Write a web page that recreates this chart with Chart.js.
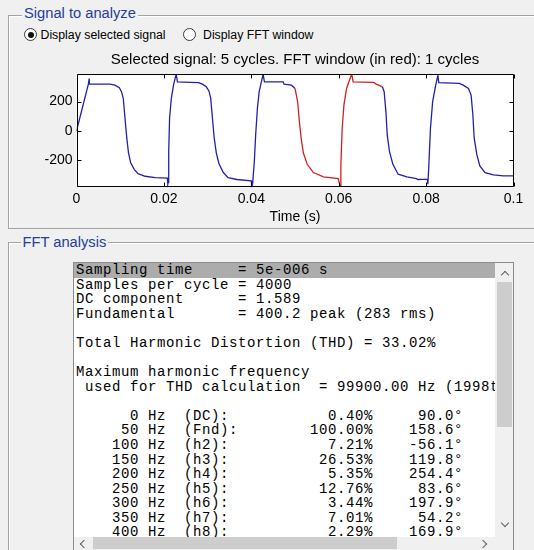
<!DOCTYPE html>
<html lang="en">
<head>
<meta charset="UTF-8">
<title>FFT analysis</title>
<script src="https://cdn.jsdelivr.net/npm/chart.js"></script>
<style>
  body { margin: 0; width: 534px; height: 550px; background: #f0f0f0; overflow: hidden; position: relative;
         font-family: "Liberation Sans", Arial, sans-serif; }
  .abs { position: absolute; }
  .group { position: absolute; border: 1px solid #a3a3a3; box-shadow: inset 1px 1px 0 #fff; }
  .legend { position: absolute; background: #f0f0f0; color: #24409a; font-size: 14.7px; line-height: 17px; padding: 0 2px; }
  .radio { position: absolute; width: 11px; height: 11px; border: 1px solid #3a3a3a; border-radius: 50%; background: #fff; }
  .radio.on::after { content: ""; position: absolute; left: 2.5px; top: 2.5px; width: 6px; height: 6px; border-radius: 50%; background: #111; }
  .rlabel { position: absolute; font-size: 12.3px; line-height: 14px; color: #000; }
  #list { left: 73px; top: 262px; width: 439px; height: 300px; border: 1px solid #8c8c8c; background: #fff; }
  #sel { left: 74px; top: 263.4px; width: 421px; height: 14.6px; background: #acacac; }
  #txt { left: 74px; top: 263.4px; width: 419px; height: 273.6px; padding-left: 2px; overflow: hidden; white-space: pre;
         font-family: "Liberation Mono", "Courier New", monospace; font-size: 14px; letter-spacing: 0.6px; line-height: 14.55px; color: #000; }
  .track { position: absolute; background: #f0f0f0; }
  .thumb { position: absolute; background: #cdcdcd; }
  .chev { position: absolute; width: 5px; height: 5px; border-left: 1.5px solid #606060; border-top: 1.5px solid #606060; }
</style>
</head>
<body>

<div class="group" style="left:8px; top:15px; width:600px; height:212px;"></div>
<div class="legend" style="left:22px; top:5px;">Signal to analyze</div>

<div class="radio on" style="left:24px; top:28px;"></div>
<div class="rlabel" style="left:40.5px; top:28px;">Display selected signal</div>
<div class="radio" style="left:183px; top:28px;"></div>
<div class="rlabel" style="left:203px; top:28px;">Display FFT window</div>

<canvas id="sig" class="abs" width="514" height="186" style="left:20px; top:44px;"></canvas>

<div class="group" style="left:8px; top:242px; width:600px; height:400px;"></div>
<div class="legend" style="left:20.5px; top:233.5px;">FFT analysis</div>

<div id="list" class="abs"></div>
<div id="sel" class="abs"></div>
<div id="txt" class="abs"></div>

<div class="track" style="left:495px; top:263px; width:18px; height:274px;"></div>
<div class="thumb" style="left:497px; top:282px; width:15px; height:145px;"></div>
<div class="chev" style="left:502px; top:272px; transform:rotate(45deg);"></div>
<div class="chev" style="left:502px; top:520px; transform:rotate(225deg);"></div>

<div class="track" style="left:74px; top:537px; width:439px; height:13px;"></div>
<div class="thumb" style="left:93px; top:537px; width:304px; height:12px;"></div>
<div class="chev" style="left:81px; top:540.5px; transform:rotate(-45deg);"></div>
<div class="chev" style="left:480px; top:540.5px; transform:rotate(135deg);"></div>

<script>
// signal: time (s) and value
const tTime = [
  0.0000, 0.0027, 0.0029, 0.00292, 0.0077, 0.0088, 0.0098, 0.0103, 0.0107, 0.0111,
  0.0115, 0.0119, 0.0124, 0.0132, 0.0141, 0.0157, 0.0180, 0.0208, 0.0209,
  0.0210, 0.0211, 0.0213, 0.0217, 0.0222, 0.0228, 0.0231, 0.0279,
  0.0287, 0.0297, 0.0303, 0.0307, 0.0311, 0.0315, 0.0320, 0.0326, 0.0336, 0.0347,
  0.0367, 0.0400, 0.0401,
  0.0403, 0.0407, 0.0410, 0.0414, 0.0418, 0.0424, 0.0427, 0.0430, 0.0473, 0.0475,
  0.0492, 0.0500, 0.0506, 0.0510, 0.0514, 0.0519, 0.0528, 0.0542, 0.0565, 0.0599, 0.0603,
  0.0605, 0.0608, 0.0612, 0.0618, 0.0626, 0.0630, 0.0633, 0.0680, 0.0685, 0.0700,
  0.0704, 0.0708, 0.0711, 0.0716, 0.0724, 0.0736, 0.0756, 0.0778, 0.0781, 0.0803, 0.0804,
  0.0806, 0.0810, 0.0815, 0.0822, 0.0827, 0.0829, 0.0876, 0.0885, 0.0897, 0.0903,
  0.0907, 0.0910, 0.0916, 0.0923, 0.0935, 0.0954, 0.0977, 0.1000
];
const vSignal = [
  0, 316, 356, 318, 318, 311, 294, 267, 222, 87,
  -47, -148, -215, -260, -289, -307, -316, -320, -361,
  -349, -137, 87, 222, 311, 386, 334, 329,
  320, 300, 272, 225, 90, -45, -150, -222, -282, -316,
  -329, -338, -376,
  -360, -204, -25, 155, 267, 345, 386, 334, 334, 318,
  311, 289, 200, 65, -47, -148, -226, -282, -311, -323, -376,
  -226, 20, 177, 289, 356, 386, 334, 330, 320, 300,
  267, 132, -25, -137, -226, -293, -311, -323, -329, -327, -361,
  -249, 20, 200, 311, 378, 329, 323, 311, 289, 244,
  110, -47, -159, -237, -282, -298, -304, -304
];
const fftWindow = [0.05, 0.07];
const xTicks = [0, 0.02, 0.04, 0.06, 0.08, 0.1];
const yTicks = [-200, 0, 200];
const yLimits = [-382, 387];

// FFT results
const samplingTime = '5e-006';
const samplesPerCycle = 4000;
const dcComponent = 1.589;
const fundPeak = 400.2;
const fundRms = 283;
const thdPct = 33.02;
const maxHarmFreq = 99900.00;
const maxHarmOrder = 1998;
const harmFreq = [0, 50, 100, 150, 200, 250, 300, 350, 400];
const harmName = ['DC', 'Fnd', 'h2', 'h3', 'h4', 'h5', 'h6', 'h7', 'h8'];
const harmMag = [0.40, 100.00, 7.21, 26.53, 5.35, 12.76, 3.44, 7.01, 2.29];
const harmPhase = [90.0, 158.6, -56.1, 119.8, 254.4, 83.6, 197.9, 54.2, 169.9];

// listbox text
const lines = [
  'Sampling time     = ' + samplingTime + ' s',
  'Samples per cycle = ' + samplesPerCycle,
  'DC component      = ' + dcComponent,
  'Fundamental       = ' + fundPeak + ' peak (' + fundRms + ' rms)',
  '',
  'Total Harmonic Distortion (THD) = ' + thdPct.toFixed(2) + '%',
  '',
  'Maximum harmonic frequency',
  ' used for THD calculation  = ' + maxHarmFreq.toFixed(2) + ' Hz (' + maxHarmOrder + 'th harmonic)',
  ''
];
for (let i = 0; i < harmFreq.length; ++i) {
  const left = String(harmFreq[i]).padStart(7) + ' Hz  (' + harmName[i] + '):';
  const mag = harmMag[i].toFixed(2) + '%';
  const ph = harmPhase[i].toFixed(1) + '\u00b0';
  lines.push(left + mag.padStart(33 - left.length) + ph.padStart(10));
}
document.getElementById('txt').textContent = lines.join('\n');

// chart
const blue = '#2020b0', red = '#d02020';
const inWin = x => x >= fftWindow[0] - 1e-9 && x <= fftWindow[1] + 1e-9;

const axesBox = {
  id: 'axesBox',
  beforeDraw(chart) {
    const {ctx, chartArea: a} = chart;
    ctx.save();
    ctx.fillStyle = '#fff';
    ctx.fillRect(a.left, a.top, a.width, a.height);
    ctx.restore();
  },
  afterDraw(chart) {
    const {ctx, chartArea: a, scales: {x, y}} = chart;
    const L = Math.round(a.left) + 0.5, R = Math.round(a.right) - 0.5;
    const T = Math.round(a.top) + 0.5, B = Math.round(a.bottom) - 0.5;
    ctx.save();
    ctx.strokeStyle = '#000';
    ctx.lineWidth = 1;
    ctx.beginPath();
    x.ticks.forEach(t => {
      const px = Math.round(x.getPixelForValue(t.value)) + 0.5;
      ctx.moveTo(px, B); ctx.lineTo(px, B - 4);
      ctx.moveTo(px, T); ctx.lineTo(px, T + 4);
    });
    y.ticks.forEach(t => {
      const py = Math.round(y.getPixelForValue(t.value)) + 0.5;
      ctx.moveTo(L, py); ctx.lineTo(L + 4, py);
      ctx.moveTo(R, py); ctx.lineTo(R - 4, py);
    });
    ctx.rect(L, T, R - L, B - T);
    ctx.stroke();
    ctx.restore();
  }
};

const tickFont = {family: '"Liberation Sans", Arial, sans-serif', size: 14};

new Chart(document.getElementById('sig'), {
  type: 'line',
  data: {
    datasets: [{
      data: tTime.map((t, i) => ({x: t, y: vSignal[i]})),
      borderColor: blue,
      borderWidth: 1.3,
      pointRadius: 0,
      tension: 0,
      segment: {
        borderColor: c => inWin(c.p0.parsed.x) && inWin(c.p1.parsed.x) ? red : blue
      }
    }]
  },
  options: {
    responsive: false,
    animation: false,
    devicePixelRatio: 1,
    events: [],
    layout: {padding: {left: 0, right: 20.5, top: 0, bottom: 0}},
    plugins: {
      legend: {display: false},
      tooltip: {enabled: false},
      title: {
        display: true,
        fullSize: false,
        text: 'Selected signal: 5 cycles. FFT window (in red): 1 cycles',
        color: '#000',
        font: {family: '"Liberation Sans", Arial, sans-serif', size: 15, weight: 'normal'},
        padding: {top: 7, bottom: 5}
      }
    },
    scales: {
      x: {
        type: 'linear',
        min: 0, max: 0.1,
        grid: {display: false, drawTicks: false},
        border: {display: false},
        afterBuildTicks: s => { s.ticks = xTicks.map(v => ({value: v})); },
        afterFit: s => { s.height = 42.7; s.paddingLeft = 0; s.paddingRight = 0; },
        ticks: {font: tickFont, color: '#000', padding: 3, maxRotation: 0, autoSkip: false,
                callback: v => String(v)},
        title: {display: true, text: 'Time (s)', color: '#000', font: tickFont, padding: {top: 0, bottom: 4.6}}
      },
      y: {
        min: yLimits[0], max: yLimits[1],
        grid: {display: false, drawTicks: false},
        border: {display: false},
        afterBuildTicks: s => { s.ticks = yTicks.map(v => ({value: v})); },
        afterFit: s => { s.width = 56.5; s.paddingTop = 0; s.paddingBottom = 0; },
        ticks: {font: tickFont, color: '#000', padding: 4}
      }
    }
  },
  plugins: [axesBox]
});
</script>
</body>
</html>
